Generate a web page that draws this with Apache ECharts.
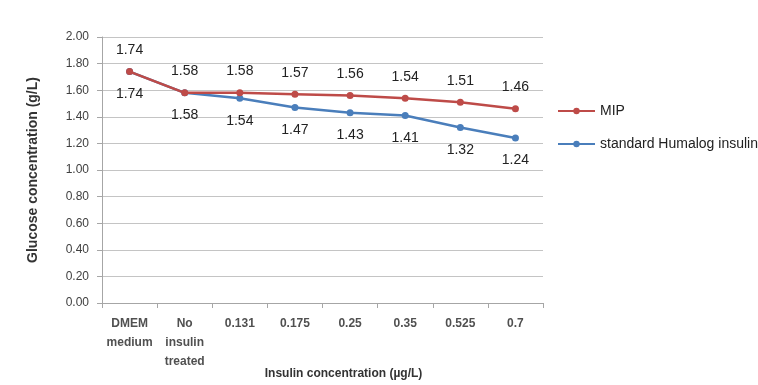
<!DOCTYPE html>
<html>
<head>
<meta charset="utf-8">
<script src="https://cdn.jsdelivr.net/npm/echarts@6/dist/echarts.min.js"></script>
<style>
  html, body { margin: 0; padding: 0; background: #fff; }
  #chart { width: 758px; height: 385px; }
</style>
</head>
<body>
<div id="chart"></div>
<script>
// Glucose concentration after insulin treatment
const categories = ['DMEM\nmedium', 'No\ninsulin\ntreated', '0.131', '0.175', '0.25', '0.35', '0.525', '0.7'];
const mipValues = [1.74, 1.58, 1.58, 1.57, 1.56, 1.54, 1.51, 1.46];
const humalogValues = [1.74, 1.58, 1.54, 1.47, 1.43, 1.41, 1.32, 1.24];
const seriesNames = ['MIP', 'standard Humalog insulin'];

const chart = echarts.init(document.getElementById('chart'));
const font = '"Liberation Sans", Arial, sans-serif';

chart.setOption({
  animation: false,
  textStyle: { fontFamily: font },
  grid: { left: 102, right: 215, top: 37, bottom: 82, containLabel: false, outerBoundsMode: 'none' },
  legend: {
    orient: 'vertical',
    left: 557,
    top: 104,
    padding: 0,
    itemGap: 19,
    itemWidth: 37,
    itemHeight: 8,
    textStyle: { fontSize: 14, color: '#222', fontFamily: font },
    data: seriesNames
  },
  xAxis: {
    type: 'category',
    data: categories,
    boundaryGap: true,
    name: 'Insulin concentration (µg/L)',
    nameLocation: 'middle',
    nameGap: 65,
    nameMoveOverlap: false,
    nameTextStyle: { fontSize: 12, fontWeight: 'bold', color: '#333', padding: [0, 0, 0, 42] },
    axisLine: { lineStyle: { color: '#a6a6a6', width: 1 } },
    axisTick: { show: true, alignWithLabel: false, length: 5, lineStyle: { color: '#a6a6a6' } },
    axisLabel: { fontSize: 12, color: '#505050', lineHeight: 19, margin: 11, fontWeight: 'bold', interval: 0 }
  },
  yAxis: {
    type: 'value',
    min: 0,
    max: 2,
    interval: 0.2,
    name: 'Glucose concentration (g/L)',
    nameLocation: 'middle',
    nameGap: 62,
    nameMoveOverlap: false,
    nameRotate: 90,
    nameTextStyle: { fontSize: 14, fontWeight: 'bold', color: '#333' },
    axisLine: { show: true, lineStyle: { color: '#a6a6a6' } },
    axisTick: { show: true, length: 5, lineStyle: { color: '#a6a6a6' } },
    axisLabel: { fontSize: 12, color: '#404040', formatter: v => v.toFixed(2), margin: 13 },
    splitLine: { lineStyle: { color: '#c4c4c4', width: 1 } }
  },
  series: [
    {
      name: seriesNames[1],
      type: 'line',
      data: humalogValues,
      z: 2,
      symbol: 'circle',
      symbolSize: 7,
      color: '#4a7ebb',
      lineStyle: { width: 2.5 },
      label: { show: true, position: 'bottom', distance: 12, fontSize: 14, color: '#222', formatter: p => p.value.toFixed(2) }
    },
    {
      name: seriesNames[0],
      type: 'line',
      data: mipValues,
      z: 3,
      symbol: 'circle',
      symbolSize: 7,
      color: '#be4b48',
      lineStyle: { width: 2.5 },
      label: { show: true, position: 'top', distance: 11, fontSize: 14, color: '#222', formatter: p => p.value.toFixed(2) }
    }
  ]
});
</script>
</body>
</html>
